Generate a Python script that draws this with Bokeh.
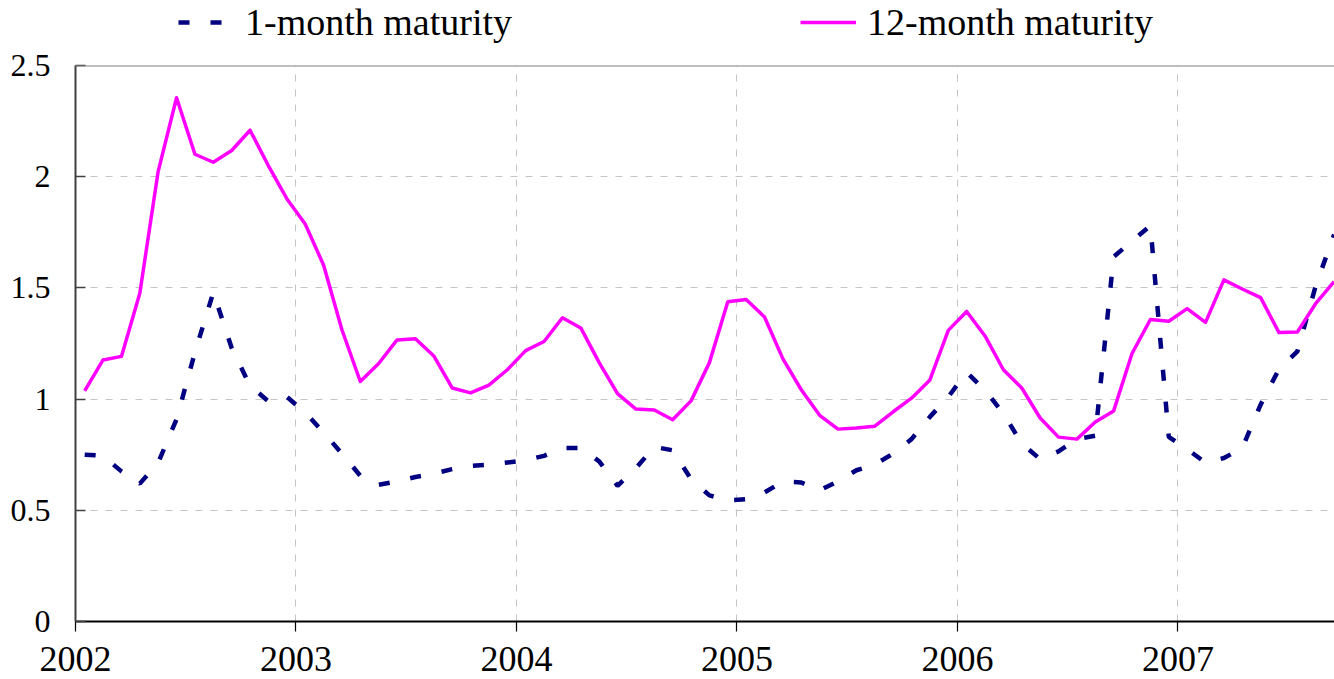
import pandas as pd
from bokeh.plotting import figure
from bokeh.layouts import column
from bokeh.models import (ColumnDataSource, FixedTicker, NumeralTickFormatter, Range1d,
                          Span, Legend, LegendItem)
from bokeh.embed import file_html
from bokeh.resources import INLINE

# ---- data (monthly, Jan 2002 - Sep 2007) ----
months = pd.date_range("2002-01-01", periods=69, freq="MS")

one_month = [
    0.75, 0.745, 0.675, 0.62, 0.714, 0.91, 1.21, 1.48, 1.23, 1.06, 0.99, 1.01,
    0.94, 0.85, 0.755, 0.655, 0.615, 0.63, 0.65, 0.665, 0.685, 0.70, 0.705, 0.715,
    0.725, 0.745, 0.78, 0.78, 0.72, 0.61, 0.69, 0.785, 0.77, 0.64, 0.567, 0.545,
    0.55, 0.58, 0.63, 0.625, 0.59, 0.63, 0.68, 0.706, 0.755, 0.82, 0.92, 1.01,
    1.12, 1.04, 0.935, 0.80, 0.73, 0.765, 0.82, 0.835, 1.64, 1.71, 1.78, 0.83,
    0.775, 0.714, 0.735, 0.78, 0.975, 1.135, 1.215, 1.51, 1.74,
]

twelve_month = [
    1.037, 1.176, 1.192, 1.476, 2.024, 2.355, 2.101, 2.065, 2.118, 2.209, 2.049, 1.901,
    1.787, 1.603, 1.312, 1.079, 1.160, 1.266, 1.271, 1.194, 1.050, 1.028, 1.063, 1.132,
    1.218, 1.259, 1.366, 1.320, 1.164, 1.025, 0.955, 0.951, 0.907, 0.992, 1.164, 1.438,
    1.448, 1.369, 1.181, 1.042, 0.927, 0.865, 0.870, 0.878, 0.943, 1.004, 1.086, 1.309,
    1.394, 1.284, 1.132, 1.050, 0.915, 0.829, 0.820, 0.897, 0.947, 1.205, 1.358, 1.350,
    1.407, 1.345, 1.536, 1.495, 1.456, 1.299, 1.302, 1.430, 1.528,
]

series_labels = ["1-month maturity", "12-month maturity"]
year_ticks = [2002, 2003, 2004, 2005, 2006, 2007]
y_ticks = [0, 0.5, 1, 1.5, 2, 2.5]

# each month placed at the middle of its category
xpos = [d.year + (d.month - 0.5) / 12 for d in months]

src = ColumnDataSource(dict(x=xpos, one=one_month, twelve=twelve_month))

FONT = "Liberation Serif"
BLUE = "#000080"
MAGENTA = "#FF00FF"
BLUE_STYLE = dict(line_color=BLUE, line_width=4.5, line_dash="11 21")
MAG_STYLE = dict(line_color=MAGENTA, line_width=3.5, line_join="round")

STRIP_H = 46

# ---------------- main chart ----------------
p = figure(width=1334, height=679 - STRIP_H, output_backend="svg", toolbar_location=None,
           x_range=Range1d(2002, 2007.71), y_range=Range1d(0, 2.5),
           min_border_left=75, min_border_right=0, min_border_top=65 - STRIP_H,
           min_border_bottom=58)
p.outline_line_color = None
p.background_fill_color = "white"
p.border_fill_color = "white"

for g in (p.xgrid, p.ygrid):
    g.grid_line_color = "#c4c4c4"
    g.grid_line_dash = "7 8"
    g.grid_line_width = 1
p.xgrid.ticker = FixedTicker(ticks=year_ticks)
p.ygrid.ticker = FixedTicker(ticks=y_ticks)

ya = p.yaxis[0]
ya.ticker = FixedTicker(ticks=y_ticks)
ya.formatter = NumeralTickFormatter(format="0.[0]")
ya.major_tick_in = 10
ya.major_tick_out = 0
ya.minor_tick_line_color = None
ya.axis_line_color = "#404040"
ya.axis_line_width = 2
ya.major_tick_line_color = "#404040"
ya.major_tick_line_width = 1.5
ya.major_label_text_font = FONT
ya.major_label_text_font_size = "32px"
ya.major_label_text_color = "black"
ya.major_label_standoff = 25

xa = p.xaxis[0]
xa.ticker = FixedTicker(ticks=year_ticks)
xa.formatter = NumeralTickFormatter(format="0")
xa.major_tick_in = 0
xa.major_tick_out = 10
xa.minor_tick_line_color = None
xa.axis_line_color = "black"
xa.axis_line_width = 2
xa.major_tick_line_color = "black"
xa.major_tick_line_width = 1.2
xa.major_label_text_font = FONT
xa.major_label_text_font_size = "36px"
xa.major_label_text_color = "black"
xa.major_label_standoff = 15

p.add_layout(Span(location=2.5, dimension="width", line_color="#808080",
                  line_width=2, level="overlay"))

p.line("x", "one", source=src, **BLUE_STYLE)
p.line("x", "twelve", source=src, **MAG_STYLE)

# ---------------- legend strip ----------------
lg = figure(width=1334, height=STRIP_H, output_backend="svg", toolbar_location=None,
            x_range=Range1d(0, 1), y_range=Range1d(0, 1),
            min_border_left=0, min_border_right=0, min_border_top=0, min_border_bottom=0)
lg.axis.visible = False
lg.grid.visible = False
lg.outline_line_color = None
lg.border_fill_color = "white"
lg.background_fill_color = "white"

# same series, drawn outside this strip's ranges: only their legend samples show
l1 = lg.line("x", "one", source=src, **BLUE_STYLE)
l2 = lg.line("x", "twelve", source=src, **MAG_STYLE)

legend = Legend(items=[LegendItem(label=series_labels[0], renderers=[l1]),
                       LegendItem(label=series_labels[1], renderers=[l2])],
                orientation="horizontal", location=(103, 2),
                glyph_width=56, glyph_height=20, label_standoff=11, spacing=288,
                padding=0, margin=0, border_line_color=None, background_fill_alpha=0,
                label_text_font=FONT, label_text_font_size="38px", label_text_color="black")
lg.add_layout(legend, "center")

layout = column(lg, p, spacing=0)
open("out.html", "w").write(file_html(layout, INLINE))
